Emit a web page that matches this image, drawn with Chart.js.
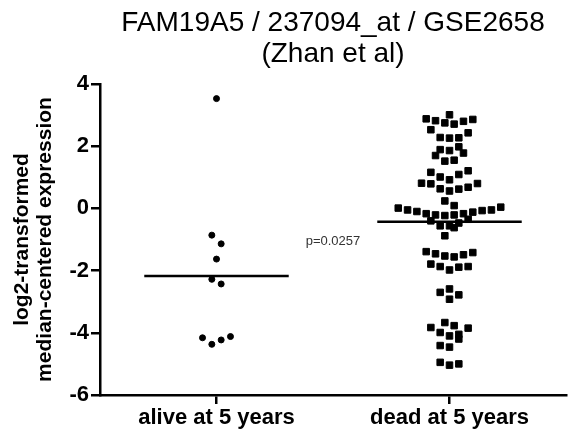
<!DOCTYPE html>
<html>
<head>
<meta charset="utf-8">
<script src="https://cdn.jsdelivr.net/npm/chart.js@4.4.0/dist/chart.umd.min.js"></script>
<style>
html,body{margin:0;padding:0;background:#fff;}
#wrap{width:576px;height:435px;}
</style>
</head>
<body>
<div id="wrap"><canvas id="c" width="576" height="435"></canvas></div>
<script>
// ---- data ----
const categories = ['alive at 5 years', 'dead at 5 years'];
const yTicks = [-6, -4, -2, 0, 2, 4];
const titleLines = ['FAM19A5 / 237094_at / GSE2658', '(Zhan et al)'];
const yTitleLines = ['log2-transformed', 'median-centered expression'];
const pValueText = 'p=0.0257';

const aliveValues = [3.53, -0.86, -1.14, -1.63, -2.28, -2.43, -4.16, -4.37, -4.23, -4.12];
const aliveX      = [1.00, 0.98, 1.02, 1.00, 0.98, 1.02, 0.94, 0.98, 1.02, 1.06];

const deadValues = [
  3.01, 2.88, 2.82, 2.75, 2.71, 2.80, 2.86, 2.53, 2.43, 2.28,
  2.26, 2.27, 1.89, 1.86, 1.98, 1.70, 1.78, 1.52, 1.55, 1.16,
  1.21, 1.01, 1.09, 0.92, 0.81, 0.79, 0.80, 0.63, 0.68, 0.56,
  0.62, 0.24, 0.09, 0.01, -0.05, -0.10, -0.17, -0.21, -0.23, -0.21,
  -0.17, -0.12, -0.07, -0.05, 0.04, -0.40, -0.56, -0.56, -0.62, -0.47,
  -0.35, -0.88, -1.39, -1.46, -1.53, -1.56, -1.49, -1.42, -1.79, -1.87,
  -1.98, -1.89, -1.87, -2.59, -2.70, -2.78, -2.92, -3.67, -3.83, -3.77,
  -3.85, -3.99, -4.05, -4.10, -4.20, -4.41, -4.46, -4.95, -5.04, -5.00
];
const deadX = [
  2.00, 1.90, 1.94, 1.98, 2.02, 2.06, 2.10, 1.92, 2.08, 1.96,
  2.00, 2.04, 1.96, 2.00, 2.04, 1.94, 2.06, 1.98, 2.02, 1.92,
  2.08, 1.96, 2.04, 2.00, 1.88, 1.92, 2.12, 1.96, 2.08, 2.00,
  2.04, 1.98, 2.02, 1.78, 1.82, 1.86, 1.90, 1.94, 1.98, 2.02,
  2.06, 2.10, 2.14, 2.18, 2.22, 1.92, 1.96, 2.00, 2.02, 2.04,
  2.08, 1.98, 1.90, 1.94, 1.98, 2.02, 2.06, 2.10, 1.92, 1.96,
  2.00, 2.04, 2.08, 2.00, 1.96, 2.04, 2.00, 1.98, 1.92, 2.02,
  2.08, 1.96, 2.04, 2.00, 2.04, 1.96, 2.00, 1.96, 2.00, 2.04
];

const medians = [-2.17, -0.43];

// ---- build ----
const HALF = 0.31;
const FONT = "'Liberation Sans', Arial, sans-serif";

const medianDatasets = medians.map((m, i) => ({
  type: 'line',
  data: [{x: i + 1 - HALF, y: m}, {x: i + 1 + HALF, y: m}],
  borderColor: '#000',
  borderWidth: 2.5,
  pointRadius: 0,
  fill: false,
  order: 0
}));

const overlay = {
  id: 'overlay',
  afterDraw(chart) {
    const ctx = chart.ctx;
    const a = chart.chartArea;
    const xs = chart.scales.x, ys = chart.scales.y;
    ctx.save();
    ctx.fillStyle = '#000';
    ctx.textAlign = 'center';
    ctx.textBaseline = 'middle';
    ctx.font = '28px ' + FONT;
    const cx = (a.left + a.right) / 2;
    ctx.fillText(titleLines[0], cx, 23);
    ctx.fillText(titleLines[1], cx, 54);

    ctx.font = 'bold 21px ' + FONT;
    const cy = (a.top + a.bottom) / 2;
    ctx.save();
    ctx.translate(22, cy);
    ctx.rotate(-Math.PI / 2);
    ctx.fillText(yTitleLines[0], 0, 0);
    ctx.restore();
    ctx.save();
    ctx.translate(45, cy);
    ctx.rotate(-Math.PI / 2);
    ctx.fillText(yTitleLines[1], 0, 0);
    ctx.restore();

    ctx.font = '13px ' + FONT;
    ctx.fillStyle = '#333';
    ctx.fillText(pValueText, xs.getPixelForValue(1.5), ys.getPixelForValue(-1.05));
    ctx.restore();
  }
};

new Chart(document.getElementById('c'), {
  type: 'scatter',
  data: {
    datasets: [
      {
        data: aliveValues.map((v, i) => ({x: aliveX[i], y: v})),
        pointStyle: 'circle',
        radius: 3,
        backgroundColor: '#000',
        borderColor: '#000',
        borderWidth: 1,
        order: 1
      },
      {
        data: deadValues.map((v, i) => ({x: deadX[i], y: v})),
        pointStyle: 'rect',
        radius: 4.6,
        backgroundColor: '#000',
        borderColor: '#000',
        borderWidth: 1,
        order: 1
      },
      ...medianDatasets
    ]
  },
  options: {
    responsive: false,
    animation: false,
    devicePixelRatio: 1,
    layout: {padding: {top: 84, right: 10, bottom: 0, left: 0}},
    plugins: {legend: {display: false}, tooltip: {enabled: false}, title: {display: false}},
    scales: {
      x: {
        type: 'linear',
        min: 0.5, max: 2.5,
        afterFit(s) { s.height = 40; },
        afterBuildTicks(s) { s.ticks = categories.map((c, i) => ({value: i + 1})); },
        ticks: {
          callback: (v) => categories[Math.round(v) - 1],
          color: '#000',
          font: {family: FONT, size: 22, weight: 'bold'},
          padding: 1,
          maxRotation: 0,
          autoSkip: false
        },
        grid: {drawOnChartArea: false, drawTicks: true, tickLength: 9, color: '#000', lineWidth: 2.5},
        border: {display: true, color: '#000', width: 2.5}
      },
      y: {
        min: -6, max: 4,
        afterFit(s) { s.width = 100; },
        afterBuildTicks(s) { s.ticks = yTicks.map(v => ({value: v})); },
        ticks: {
          color: '#000',
          font: {family: FONT, size: 22, weight: 'bold'},
          padding: 2
        },
        grid: {drawOnChartArea: false, drawTicks: true, tickLength: 9, color: '#000', lineWidth: 2.5},
        border: {display: true, color: '#000', width: 2.5}
      }
    }
  },
  plugins: [overlay]
});
</script>
</body>
</html>
